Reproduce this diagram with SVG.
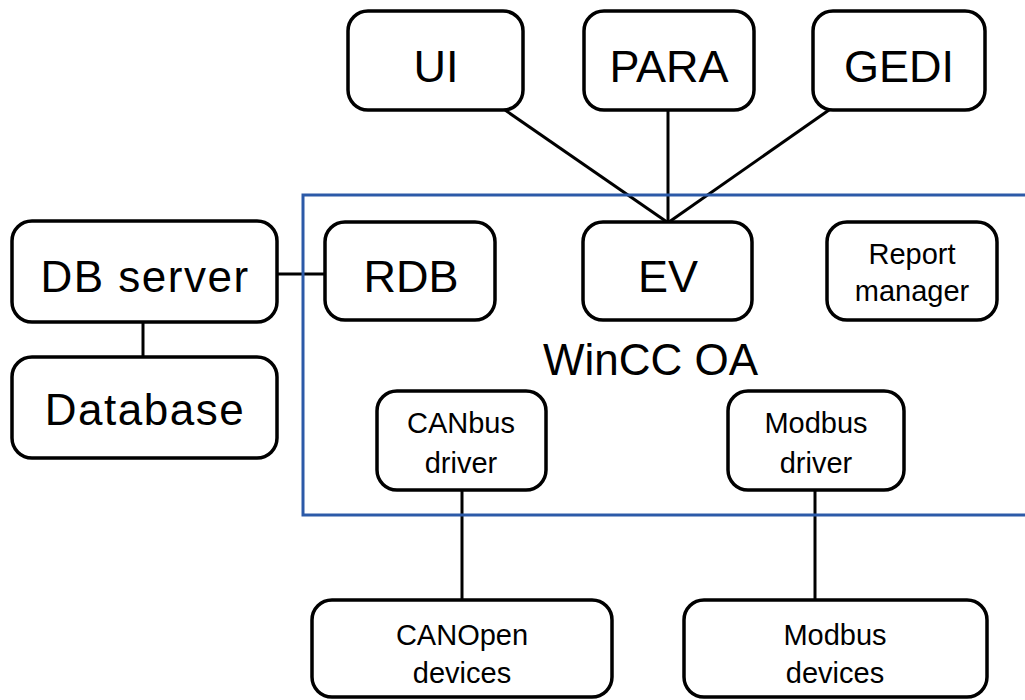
<svg xmlns="http://www.w3.org/2000/svg" width="1025" height="700" viewBox="0 0 1025 700">
<style>
.box{fill:#fff;stroke:#000;stroke-width:3.5}
.ln{stroke:#000;stroke-width:3;fill:none}
.big{font-family:"Liberation Sans",Arial,sans-serif;font-size:45px;fill:#000;text-anchor:middle}
.wide{font-family:"Liberation Sans",Arial,sans-serif;font-size:44px;letter-spacing:1.5px;fill:#000;text-anchor:middle}
.sm{font-family:"Liberation Sans",Arial,sans-serif;font-size:29px;fill:#000;text-anchor:middle}
.title{font-family:"Liberation Sans",Arial,sans-serif;font-size:44px;fill:#000}
</style>
<rect width="1025" height="700" fill="#fff"/>
<g id="connectors">
<line class="ln" x1="505" y1="110" x2="667" y2="222"/>
<line class="ln" x1="668" y1="110" x2="668" y2="222"/>
<line class="ln" x1="829" y1="110" x2="669" y2="222"/>
<line class="ln" x1="277" y1="274" x2="325" y2="274"/>
<line class="ln" x1="143" y1="322" x2="143" y2="357"/>
<line class="ln" x1="462" y1="490" x2="462" y2="600"/>
<line class="ln" x1="815" y1="490" x2="815" y2="600"/>
</g>
<g id="wincc">
<rect x="303" y="195" width="740" height="320" fill="none" stroke="#2c5aa8" stroke-width="3"/>
<text class="title" x="543" y="375">WinCC OA</text>
</g>
<g id="ui"><rect class="box" x="348" y="11" width="175" height="99" rx="20"/><text class="big" x="436" y="82">UI</text></g>
<g id="para"><rect class="box" x="584" y="11" width="170" height="99" rx="20"/><text class="big" x="669" y="82">PARA</text></g>
<g id="gedi"><rect class="box" x="813" y="11" width="172" height="99" rx="20"/><text class="big" x="899" y="82">GEDI</text></g>
<g id="dbserver"><rect class="box" x="12" y="221" width="265" height="101" rx="20"/><text class="wide" x="145" y="292">DB server</text></g>
<g id="database"><rect class="box" x="12" y="357" width="265" height="101" rx="20"/><text class="wide" x="145" y="425">Database</text></g>
<g id="rdb"><rect class="box" x="325" y="222" width="170" height="98" rx="20"/><text class="big" x="411" y="292">RDB</text></g>
<g id="ev"><rect class="box" x="583" y="222" width="169" height="98" rx="20"/><text class="big" x="668" y="292">EV</text></g>
<g id="report"><rect class="box" x="827" y="222" width="170" height="98" rx="20"/><text class="sm" x="912" y="264">Report</text><text class="sm" x="912" y="301">manager</text></g>
<g id="canbus"><rect class="box" x="377" y="391" width="169" height="99" rx="20"/><text class="sm" x="461" y="433">CANbus</text><text class="sm" x="461" y="473">driver</text></g>
<g id="modbusdrv"><rect class="box" x="728" y="391" width="176" height="99" rx="20"/><text class="sm" x="816" y="433">Modbus</text><text class="sm" x="816" y="473">driver</text></g>
<g id="canopen"><rect class="box" x="312" y="600" width="300" height="97" rx="20"/><text class="sm" x="462" y="645">CANOpen</text><text class="sm" x="462" y="683">devices</text></g>
<g id="modbusdev"><rect class="box" x="684" y="600" width="303" height="97" rx="20"/><text class="sm" x="835" y="645">Modbus</text><text class="sm" x="835" y="683">devices</text></g>
</svg>
